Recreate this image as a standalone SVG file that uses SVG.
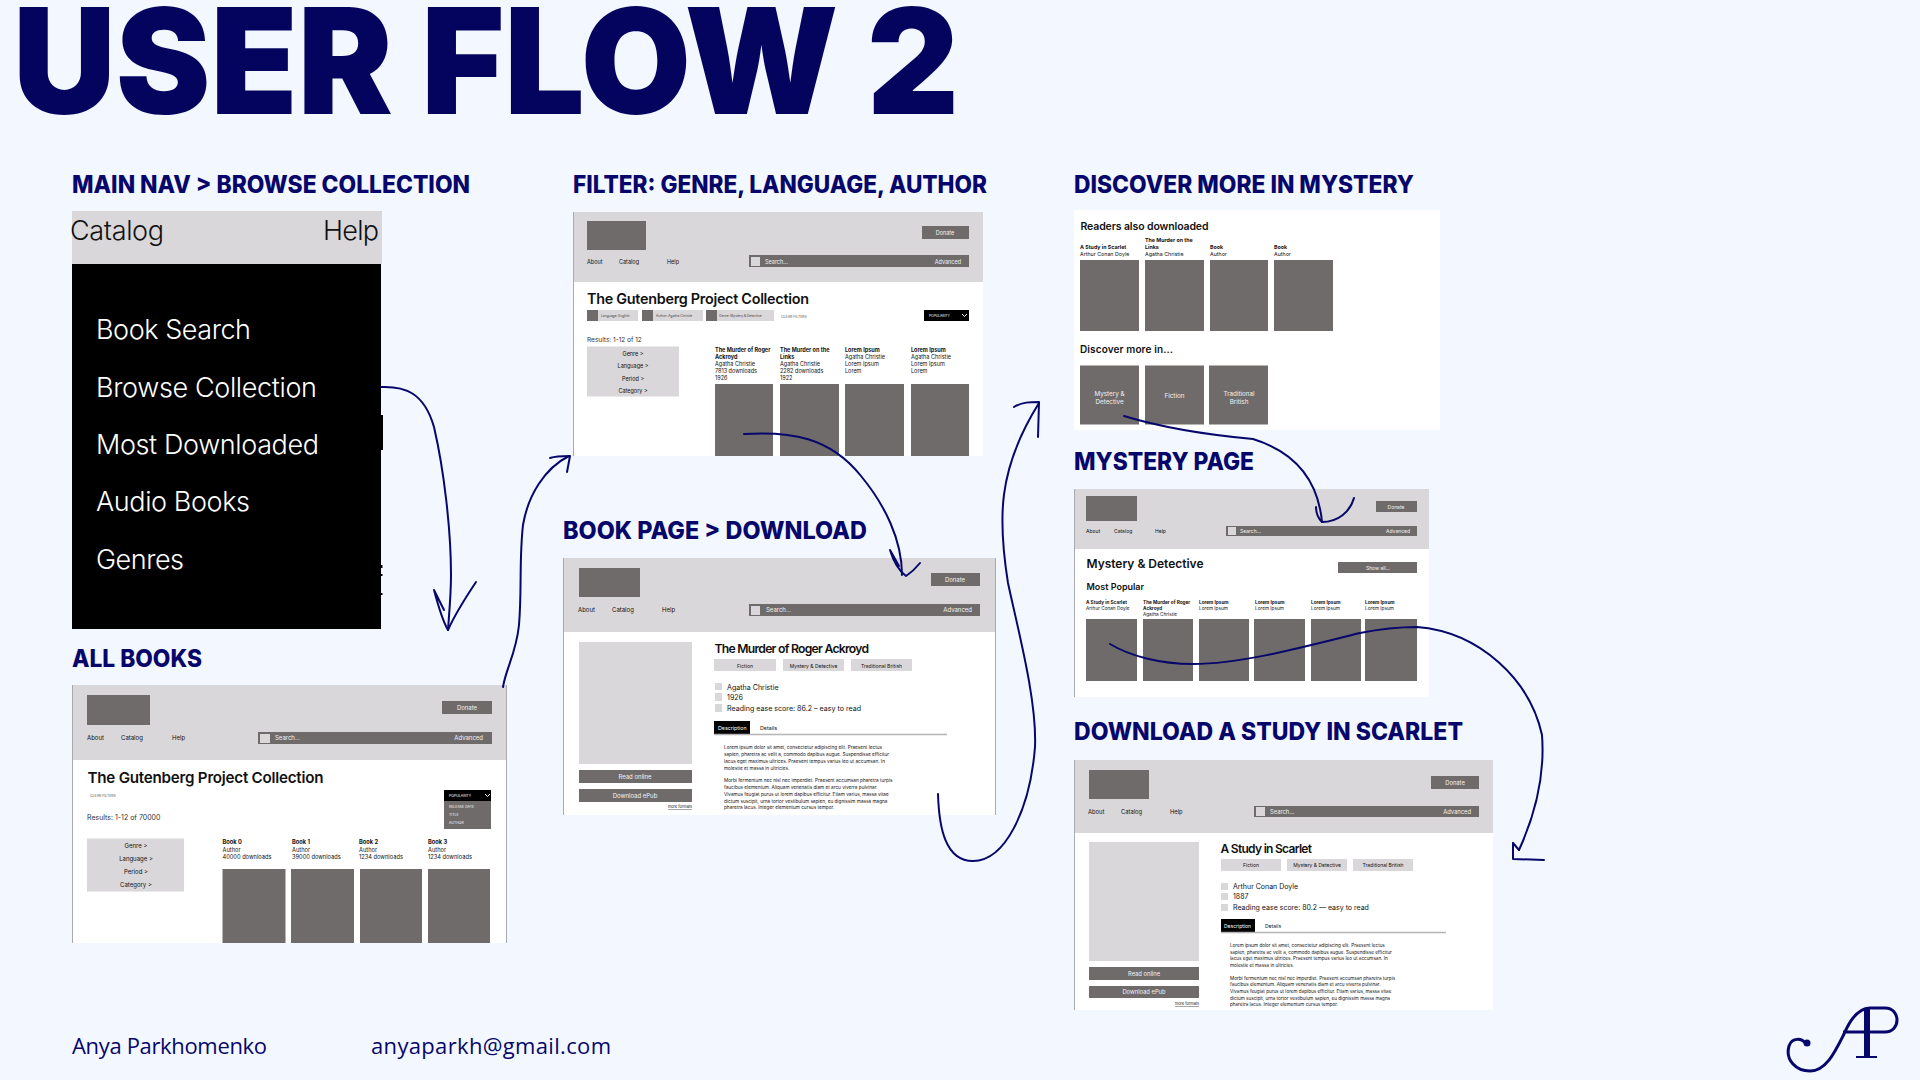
<svg xmlns="http://www.w3.org/2000/svg" width="1920" height="1080" viewBox="0 0 1920 1080">
<defs>
<style>
text{font-family:Inter,"Liberation Sans",sans-serif;fill:#111}
.h{font-family:Inter,"Liberation Sans",sans-serif;font-weight:800;font-size:24px;fill:#07076b}
.f{font-family:"Open Sans","Liberation Sans",sans-serif;font-size:22px;fill:#07076b}
.bg{fill:#fff}.hd{fill:#d9d7da}.dk{fill:#706b6b}.lt{fill:#d9d7da}.bk{fill:#000}
.edge{stroke:#a9a9b0;stroke-width:1;fill:none}
.t{font-weight:600}.b{font-weight:700}
.w{fill:#f2f2f2}.wh{fill:#fff}.c{text-anchor:middle}.e{text-anchor:end}
.conn path{fill:none;stroke:#07076b;stroke-width:2;stroke-linecap:round;stroke-linejoin:round}
</style>
</defs>
<rect width="1920" height="1080" fill="#f3f7ff"/>
<text id="title" x="13" y="114" font-size="147" font-weight="900" style="fill:#04045f" textLength="946" lengthAdjust="spacingAndGlyphs">USER FLOW 2</text>

<g id="main-nav">
<text class="h" x="72" y="193" textLength="398" lengthAdjust="spacingAndGlyphs">MAIN NAV &gt; BROWSE COLLECTION</text>
<rect class="hd" x="72" y="211" width="310" height="53"/>
<rect class="bk" x="72" y="264" width="309" height="365"/>
<rect class="bk" x="381" y="415" width="2" height="35"/>
<rect class="bk" x="381" y="565" width="1.5" height="3"/><rect class="bk" x="381" y="574" width="1.5" height="2"/><rect class="bk" x="381" y="593" width="1.5" height="2"/>
<text x="70" y="240" font-size="27" font-weight="300" textLength="94">Catalog</text>
<text x="323" y="240" font-size="27" font-weight="300" textLength="56">Help</text>
<g font-size="27" font-weight="300" class="m">
<text class="wh" x="96" y="339" textLength="155">Book Search</text>
<text class="wh" x="96" y="397" textLength="221">Browse Collection</text>
<text class="wh" x="96" y="454" textLength="223">Most Downloaded</text>
<text class="wh" x="96" y="511" textLength="154">Audio Books</text>
<text class="wh" x="96" y="569" textLength="88">Genres</text>
</g>
</g>

<g id="all-books">
<text class="h" x="72" y="667" textLength="130" lengthAdjust="spacingAndGlyphs">ALL BOOKS</text>
<rect class="bg" x="72" y="685" width="434" height="258"/>
<rect class="hd" x="72" y="685" width="434" height="75"/>
<path class="edge" d="M72.500 685V943M506.500 685V943"/>
<rect class="dk" x="87" y="695" width="63" height="30"/>
<rect class="dk" x="442" y="701" width="50" height="13"/><text class="w c" x="467" y="710" font-size="6">Donate</text>
<g font-size="6"><text x="87" y="740">About</text><text x="121" y="740">Catalog</text><text x="172" y="740">Help</text></g>
<rect class="dk" x="258" y="732" width="234" height="12"/><rect class="hd" x="260" y="734" width="10" height="9"/>
<text class="w" x="275" y="740" font-size="6">Search...</text><text class="w e" x="483" y="740" font-size="6">Advanced</text>
<text class="t" x="87.500" y="783" font-size="15.200" textLength="236">The Gutenberg Project Collection</text>
<text x="90" y="797" font-size="3.500" style="fill:#555">CLEAR FILTERS</text>
<text x="87" y="819.500" font-size="7" style="fill:#333">Results: 1-12 of 70000</text>
<rect class="dk" x="444" y="790" width="47" height="39"/><rect class="bk" x="444" y="790" width="47" height="11"/>
<text class="wh" x="449" y="797" font-size="3.500">POPULARITY</text><path d="M485 794l2.500 2.500 2.500-2.500" fill="none" stroke="#fff"/>
<g font-size="3.500"><text class="w" x="449" y="808">RELEASE DATE</text><text class="w" x="449" y="816">TITLE</text><text class="w" x="449" y="824">AUTHOR</text></g>
<rect class="lt" x="87" y="838.500" width="97" height="53"/>
<g font-size="6" class="c" style="fill:#333"><text class="c" x="136" y="847.500">Genre &gt;</text><text class="c" x="136" y="860.500">Language &gt;</text><text class="c" x="136" y="873.500">Period &gt;</text><text class="c" x="136" y="887">Category &gt;</text></g>
<g font-size="5.700">
<text class="b" x="222.500" y="844">Book 0</text><text x="222.500" y="851.500">Author</text><text x="222.500" y="859">40000 downloads</text>
<text class="b" x="292" y="844">Book 1</text><text x="292" y="851.500">Author</text><text x="292" y="859">39000 downloads</text>
<text class="b" x="359" y="844">Book 2</text><text x="359" y="851.500">Author</text><text x="359" y="859">1234 downloads</text>
<text class="b" x="428" y="844">Book 3</text><text x="428" y="851.500">Author</text><text x="428" y="859">1234 downloads</text>
</g>
<rect class="dk" x="222.500" y="869" width="63" height="74"/><rect class="dk" x="291" y="869" width="63" height="74"/><rect class="dk" x="360" y="869" width="62" height="74"/><rect class="dk" x="428" y="869" width="62" height="74"/>
</g>

<g id="filter">
<text class="h" x="573" y="193" textLength="414" lengthAdjust="spacingAndGlyphs">FILTER: GENRE, LANGUAGE, AUTHOR</text>
<rect class="bg" x="573" y="212" width="410" height="244"/>
<rect class="hd" x="573" y="212" width="410" height="70"/>
<path class="edge" d="M573.500 212V456"/>
<rect class="dk" x="587" y="221" width="59" height="29"/>
<rect class="dk" x="922" y="226" width="47" height="13"/><text class="w c" x="945" y="235" font-size="5.500">Donate</text>
<g font-size="5.500"><text x="587" y="263.500">About</text><text x="619" y="263.500">Catalog</text><text x="667" y="263.500">Help</text></g>
<rect class="dk" x="749" y="255" width="220" height="12"/><rect class="hd" x="751" y="257" width="9" height="9"/>
<text class="w" x="765" y="263.500" font-size="5.500">Search...</text><text class="w e" x="961" y="263.500" font-size="5.500">Advanced</text>
<text class="t" x="587" y="304" font-size="14.400" textLength="222">The Gutenberg Project Collection</text>
<rect class="lt" x="587" y="310" width="51" height="11"/><rect class="dk" x="587" y="310" width="11" height="11"/><text x="601" y="317" font-size="3.300" style="fill:#444">Language: English</text>
<rect class="lt" x="642" y="310" width="61" height="11"/><rect class="dk" x="642" y="310" width="11" height="11"/><text x="656" y="317" font-size="3.300" style="fill:#444">Author: Agatha Christie</text>
<rect class="lt" x="706" y="310" width="68" height="11"/><rect class="dk" x="706" y="310" width="11" height="11"/><text x="719" y="317" font-size="3.300" style="fill:#444">Genre: Mystery &amp; Detective</text>
<text x="781" y="318" font-size="3.500" style="fill:#555">CLEAR FILTERS</text>
<rect class="bk" x="924" y="310" width="45" height="11"/><text class="wh" x="929" y="317" font-size="3.300">POPULARITY</text><path d="M962 314l2.500 2.500 2.500-2.500" fill="none" stroke="#fff"/>
<text x="587" y="341.500" font-size="6.500" style="fill:#333">Results: 1-12 of 12</text>
<rect class="lt" x="587" y="346.500" width="92" height="50"/>
<g font-size="5.500" style="fill:#333"><text class="c" x="633" y="355.500">Genre &gt;</text><text class="c" x="633" y="367.500">Language &gt;</text><text class="c" x="633" y="380.500">Period &gt;</text><text class="c" x="633" y="392.500">Category &gt;</text></g>
<g font-size="5.500">
<text class="b" x="715" y="352">The Murder of Roger</text><text class="b" x="715" y="359">Ackroyd</text><text x="715" y="366">Agatha Christie</text><text x="715" y="373">7813 downloads</text><text x="715" y="380">1926</text>
<text class="b" x="780" y="352">The Murder on the</text><text class="b" x="780" y="359">Links</text><text x="780" y="366">Agatha Christie</text><text x="780" y="373">2282 downloads</text><text x="780" y="380">1922</text>
<text class="b" x="845" y="352">Lorem Ipsum</text><text x="845" y="359">Agatha Christie</text><text x="845" y="366">Lorem Ipsum</text><text x="845" y="373">Lorem</text>
<text class="b" x="911" y="352">Lorem Ipsum</text><text x="911" y="359">Agatha Christie</text><text x="911" y="366">Lorem Ipsum</text><text x="911" y="373">Lorem</text>
</g>
<rect class="dk" x="715" y="384" width="58" height="72"/><rect class="dk" x="780" y="384" width="59" height="72"/><rect class="dk" x="845" y="384" width="59" height="72"/><rect class="dk" x="911" y="384" width="58" height="72"/>
</g>

<g id="book-page">
<text class="h" x="563" y="539" textLength="304" lengthAdjust="spacingAndGlyphs">BOOK PAGE &gt; DOWNLOAD</text>
<rect class="bg" x="563" y="558" width="432" height="257"/>
<rect class="hd" x="563" y="558" width="432" height="74"/>
<path class="edge" d="M563.500 558V815M995.500 558V815"/>
<rect class="dk" x="579" y="568" width="61" height="29"/>
<rect class="dk" x="931" y="573" width="49" height="13"/><text class="w c" x="955" y="582" font-size="6">Donate</text>
<g font-size="6"><text x="578" y="612">About</text><text x="612" y="612">Catalog</text><text x="662" y="612">Help</text></g>
<rect class="dk" x="749" y="604" width="231" height="12"/><rect class="hd" x="751" y="606" width="9" height="9"/>
<text class="w" x="766" y="612" font-size="6">Search...</text><text class="w e" x="972" y="612" font-size="6">Advanced</text>
<rect class="lt" x="579" y="642" width="113" height="122"/>
<rect class="dk" x="579" y="770" width="113" height="13"/><text class="w c" x="635" y="779" font-size="6">Read online</text>
<rect class="dk" x="579" y="789" width="113" height="13"/><text class="w c" x="635" y="798" font-size="6">Download ePub</text>
<text class="e" x="692" y="808" font-size="3.800" text-decoration="underline">more formats</text>
<text class="t" x="714.500" y="652.500" font-size="12.200" textLength="154.500">The Murder of Roger Ackroyd</text>
<rect class="lt" x="714" y="659" width="62" height="12"/><rect class="lt" x="783" y="659" width="61" height="12"/><rect class="lt" x="851" y="659" width="61" height="12"/>
<g font-size="5"><text class="c" x="745" y="667.500">Fiction</text><text class="c" x="813.500" y="667.500">Mystery &amp; Detective</text><text class="c" x="881.500" y="667.500">Traditional British</text></g>
<rect class="lt" x="715" y="683" width="7" height="7"/><rect class="lt" x="715" y="693" width="7" height="8"/><rect class="lt" x="715" y="704" width="7" height="8"/>
<g font-size="7.100" style="fill:#333"><text x="727" y="689.500">Agatha Christie</text><text x="727" y="700">1926</text><text x="727" y="711">Reading ease score: 86.2 – easy to read</text></g>
<rect class="bk" x="714" y="721" width="36" height="13"/><text class="wh" x="718" y="730" font-size="5.300">Description</text><text x="760" y="730" font-size="5.300">Details</text>
<path d="M714 734.500H947" stroke="#b5b3b6" stroke-width="1.500"/>
<g font-size="4.700" style="fill:#222">
<text x="724" y="749">Lorem ipsum dolor sit amet, consectetur adipiscing elit. Praesent lectus</text>
<text x="724" y="756">sapien, pharetra ac velit a, commodo dapibus augue. Suspendisse efficitur</text>
<text x="724" y="762.500">lacus eget maximus ultrices. Praesent tempus varius leo ut accumsan. In</text>
<text x="724" y="769.500">molestie et massa in ultricies.</text>
<text x="724" y="782">Morbi fermentum nec nisl nec imperdiet. Praesent accumsan pharetra turpis</text>
<text x="724" y="789">faucibus elementum. Aliquam venenatis diam et arcu viverra pulvinar.</text>
<text x="724" y="795.500">Vivamus feugiat purus ut lorem dapibus efficitur. Etiam varius, massa vitae</text>
<text x="724" y="802.500">dictum suscipit, urna tortor vestibulum sapien, eu dignissim massa magna</text>
<text x="724" y="809">pharetra lacus. Integer elementum cursus tempor.</text>
</g>
</g>

<g id="discover">
<text class="h" x="1074" y="193" textLength="340" lengthAdjust="spacingAndGlyphs">DISCOVER MORE IN MYSTERY</text>
<rect class="bg" x="1074" y="210" width="366" height="220"/>
<text class="t" x="1080.500" y="230" font-size="10.500" textLength="128">Readers also downloaded</text>
<g font-size="5.300">
<text class="b" x="1080" y="248.500">A Study in Scarlet</text><text x="1080" y="255.500">Arthur Conan Doyle</text>
<text class="b" x="1145" y="242">The Murder on the</text><text class="b" x="1145" y="248.500">Links</text><text x="1145" y="255.500">Agatha Christie</text>
<text class="b" x="1210" y="248.500">Book</text><text x="1210" y="255.500">Author</text>
<text class="b" x="1274" y="248.500">Book</text><text x="1274" y="255.500">Author</text>
</g>
<rect class="dk" x="1080" y="260" width="59" height="71"/><rect class="dk" x="1145" y="260" width="59" height="71"/><rect class="dk" x="1210" y="260" width="58" height="71"/><rect class="dk" x="1274" y="260" width="59" height="71"/>
<text class="t" x="1080" y="353" font-size="10" textLength="93">Discover more in...</text>
<rect class="dk" x="1080" y="365.500" width="59" height="59"/><rect class="dk" x="1145" y="365.500" width="59" height="59"/><rect class="dk" x="1209" y="365.500" width="59" height="59"/>
<g font-size="6.300"><text class="w c" x="1109.500" y="395.500">Mystery &amp;</text><text class="w c" x="1109.500" y="404">Detective</text><text class="w c" x="1174.500" y="398">Fiction</text><text class="w c" x="1239" y="395.500">Traditional</text><text class="w c" x="1239" y="404">British</text></g>
</g>

<g id="mystery">
<text class="h" x="1074" y="470" textLength="180" lengthAdjust="spacingAndGlyphs">MYSTERY PAGE</text>
<rect class="bg" x="1074" y="489" width="355" height="208"/>
<rect class="hd" x="1074" y="489" width="355" height="60"/>
<path class="edge" d="M1074.500 489V697"/>
<rect class="dk" x="1086" y="496" width="51" height="25"/>
<rect class="dk" x="1376" y="501" width="41" height="11"/><text class="w c" x="1396" y="509" font-size="5">Donate</text>
<g font-size="5"><text x="1086" y="533">About</text><text x="1114" y="533">Catalog</text><text x="1155" y="533">Help</text></g>
<rect class="dk" x="1226" y="526" width="191" height="10"/><rect class="hd" x="1228" y="527" width="8" height="8"/>
<text class="w" x="1240" y="533" font-size="5">Search...</text><text class="w e" x="1410" y="533" font-size="5">Advanced</text>
<text class="t" x="1086.500" y="568" font-size="12" textLength="117">Mystery &amp; Detective</text>
<rect class="dk" x="1338" y="562" width="79" height="11"/><text class="w c" x="1378" y="570" font-size="5">Show all...</text>
<text class="t" x="1086.500" y="590" font-size="9">Most Popular</text>
<g font-size="4.700">
<text class="b" x="1086" y="604">A Study in Scarlet</text><text x="1086" y="610">Arthur Conan Doyle</text>
<text class="b" x="1143" y="604">The Murder of Roger</text><text class="b" x="1143" y="610">Ackroyd</text><text x="1143" y="616">Agatha Christie</text>
<text class="b" x="1199" y="604">Lorem Ipsum</text><text x="1199" y="610">Lorem Ipsum</text>
<text class="b" x="1255" y="604">Lorem Ipsum</text><text x="1255" y="610">Lorem Ipsum</text>
<text class="b" x="1311" y="604">Lorem Ipsum</text><text x="1311" y="610">Lorem Ipsum</text>
<text class="b" x="1365" y="604">Lorem Ipsum</text><text x="1365" y="610">Lorem Ipsum</text>
</g>
<rect class="dk" x="1086" y="619" width="51" height="62"/><rect class="dk" x="1143" y="619" width="50" height="62"/><rect class="dk" x="1199" y="619" width="50" height="62"/><rect class="dk" x="1254" y="619" width="51" height="62"/><rect class="dk" x="1311" y="619" width="50" height="62"/><rect class="dk" x="1365" y="619" width="52" height="62"/>
</g>

<g id="download">
<text class="h" x="1074" y="740" textLength="389" lengthAdjust="spacingAndGlyphs">DOWNLOAD A STUDY IN SCARLET</text>
<rect class="bg" x="1074" y="760" width="419" height="250"/>
<rect class="hd" x="1074" y="760" width="419" height="73"/>
<path class="edge" d="M1074.500 760V1010"/>
<rect class="dk" x="1089" y="770" width="60" height="29"/>
<rect class="dk" x="1431" y="776" width="48" height="13"/><text class="w c" x="1455" y="784.500" font-size="5.800">Donate</text>
<g font-size="5.800"><text x="1088" y="814">About</text><text x="1121" y="814">Catalog</text><text x="1170" y="814">Help</text></g>
<rect class="dk" x="1254" y="806" width="225" height="11"/><rect class="hd" x="1256" y="807" width="9" height="9"/>
<text class="w" x="1270" y="814" font-size="5.800">Search...</text><text class="w e" x="1471" y="814" font-size="5.800">Advanced</text>
<rect class="lt" x="1089" y="842" width="110" height="119"/>
<rect class="dk" x="1089" y="967" width="110" height="13"/><text class="w c" x="1144" y="976" font-size="5.800">Read online</text>
<rect class="dk" x="1089" y="986" width="110" height="12"/><text class="w c" x="1144" y="994" font-size="5.800">Download ePub</text>
<text class="e" x="1199" y="1005" font-size="3.800" text-decoration="underline">more formats</text>
<text class="t" x="1220.500" y="853" font-size="12" textLength="91.500">A Study in Scarlet</text>
<rect class="lt" x="1221" y="859" width="60" height="12"/><rect class="lt" x="1287" y="859" width="60" height="12"/><rect class="lt" x="1353" y="859" width="60" height="12"/>
<g font-size="5"><text class="c" x="1251" y="867">Fiction</text><text class="c" x="1317" y="867">Mystery &amp; Detective</text><text class="c" x="1383" y="867">Traditional British</text></g>
<rect class="lt" x="1221" y="883" width="7" height="7"/><rect class="lt" x="1221" y="893" width="7" height="7"/><rect class="lt" x="1221" y="904" width="7" height="7"/>
<g font-size="7" style="fill:#333"><text x="1233" y="889">Arthur Conan Doyle</text><text x="1233" y="899">1887</text><text x="1233" y="910">Reading ease score: 80.2  — easy to read</text></g>
<rect class="bk" x="1221" y="919" width="34" height="13"/><text class="wh" x="1224" y="928" font-size="5">Description</text><text x="1265" y="928" font-size="5">Details</text>
<path d="M1221 932.500H1446" stroke="#b5b3b6" stroke-width="1.500"/>
<g font-size="4.600" style="fill:#222">
<text x="1230" y="947">Lorem ipsum dolor sit amet, consectetur adipiscing elit. Praesent lectus</text>
<text x="1230" y="953.500">sapien, pharetra ac velit a, commodo dapibus augue. Suspendisse efficitur</text>
<text x="1230" y="960">lacus eget maximus ultrices. Praesent tempus varius leo ut accumsan. In</text>
<text x="1230" y="967">molestie et massa in ultricies.</text>
<text x="1230" y="979.500">Morbi fermentum nec nisl nec imperdiet. Praesent accumsan pharetra turpis</text>
<text x="1230" y="986">faucibus elementum. Aliquam venenatis diam et arcu viverra pulvinar.</text>
<text x="1230" y="993">Vivamus feugiat purus ut lorem dapibus efficitur. Etiam varius, massa vitae</text>
<text x="1230" y="999.500">dictum suscipit, urna tortor vestibulum sapien, eu dignissim massa magna</text>
<text x="1230" y="1006">pharetra lacus. Integer elementum cursus tempor.</text>
</g>
</g>

<g id="connectors" class="conn">
<path d="M381 387C404 386 424 392 434 427C444 470 451 530 451 575C451 595 449 615 448 630"/>
<path d="M434 590C438 605 442 620 448 630C456 612 466 597 476 582M434 590L444 610"/>
<path d="M503 687C506 668 516 654 519 625C522 590 519 560 523 525C528 495 545 468 569 456"/>
<path d="M550 458C556 456 563 456 570 456L567 472"/>
<path d="M744 434C790 431 830 437 861 476C885 505 902 540 902 575"/>
<path d="M890 550C893 560 898 570 906 576C912 572 916 568 920 563M890 550L899 566"/>
<path d="M938 794C939 827 945 861 973 861C1005 861 1030 810 1035 747C1037 700 1018 630 1008 583C998 520 997 470 1039 403"/>
<path d="M1014 407C1022 402 1030 402 1039 402L1038 437"/>
<path d="M1124 416C1170 430 1220 436 1253 439C1295 452 1318 480 1322 522"/>
<path d="M1316 507C1316 513 1319 519 1322 522C1338 522 1350 512 1354 498"/>
<path d="M1110 644C1130 656 1160 664 1193 664C1240 664 1300 648 1360 633C1385 628 1400 627 1417 627C1480 632 1530 680 1542 735C1545 775 1535 815 1519 850"/>
<path d="M1513 843L1513 859L1544 860M1513 843L1519 850"/>
</g>

<g id="footer">
<text class="f" x="72" y="1054" textLength="195">Anya Parkhomenko</text>
<text class="f" x="371" y="1054" textLength="240">anyaparkh@gmail.com</text>
<g id="logo" fill="none" stroke="#07076b">
<path stroke-width="3" d="M1806 1044C1802 1038 1792 1037 1789 1046C1785 1060 1796 1071 1810 1071C1826 1071 1835 1052 1844 1034C1850 1020 1858 1008 1870 1008H1885C1901 1008 1901 1032 1885 1032H1843"/>
<circle cx="1807" cy="1043" r="3.500" fill="#07076b" stroke="none"/>
<path stroke-width="6" d="M1867 1008V1056"/>
<path stroke-width="2" d="M1856 1057H1877"/>
</g>
</g>
</svg>
